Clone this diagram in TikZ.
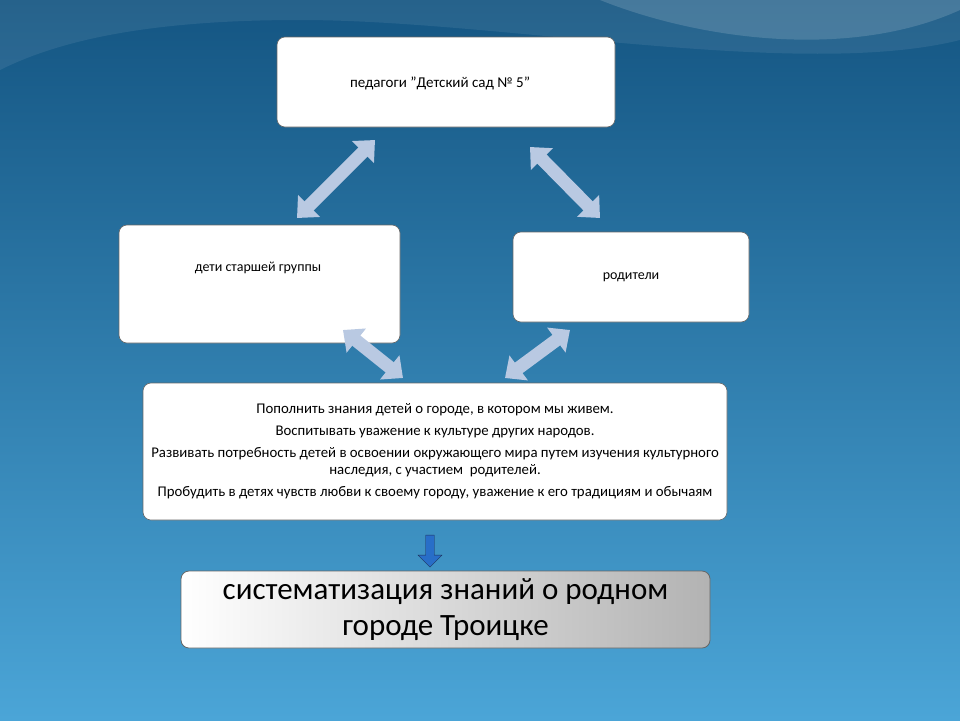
\documentclass[tikz,border=0pt]{standalone}
\usepackage{fontspec}
\setmainfont{Carlito}
\usetikzlibrary{arrows.meta,shapes.arrows}
\definecolor{arr}{HTML}{B9C9E2}
\tikzset{
  box/.style={draw=black!60,line width=0.6pt,fill=white,rounded corners=8pt,inner sep=0pt,align=center,font=\fontsize{14}{18}\selectfont},
  dbl/.style={draw=arr,line width=13pt,{Triangle[width=30pt,length=17pt]}-{Triangle[width=30pt,length=17pt]}},
}
\begin{document}
\begin{tikzpicture}[x=1pt,y=-1pt]
\useasboundingbox (0,0) rectangle (960,720);
\shade[top color={rgb,255:red,20;green,85;blue,130},bottom color={rgb,255:red,75;green,165;blue,215}] (0,0) rectangle (960,720);
\fill[white,opacity=0.08] (0,0) -- (960,0) -- (960,40) .. controls (800,80) and (500,20) .. (300,20) .. controls (150,20) and (60,40) .. (0,70) -- cycle;
\fill[white,opacity=0.15] (600,0) .. controls (700,40) and (850,60) .. (960,10) -- (960,0) -- cycle;
\node[box,minimum width=338pt,minimum height=90pt] (t) at (446,82) {};
\node[font=\fontsize{15}{18}\selectfont] (tt) at (440,83) {педагоги \symbol{34}Детский сад № 5\symbol{34}};
\node[box,minimum width=281pt,minimum height=118pt] (l) at (259.5,284) {};
\node[font=\fontsize{14}{18}\selectfont] (lt) at (258,268) {дети старшей группы};
\node[box,minimum width=236pt,minimum height=90pt] (r) at (631,277) {родители};
\node[box,minimum width=584pt,minimum height=137pt,font=\fontsize{14.8}{17}\selectfont] (b) at (435,451.5) {Пополнить знания детей о городе, в котором мы живем.\\[5pt]
Воспитывать уважение к культуре других народов.\\[5pt]
Развивать потребность детей в освоении окружающего мира путем изучения культурного\\наследия, с участием\ \ родителей.\\[5pt]
Пробудить в детях чувств любви к своему городу, уважение к его традициям и обычаям};
\node[draw=black!60,line width=0.8pt,rounded corners=8pt,left color=white,right color=black!30,minimum width=529pt,minimum height=77pt,align=center,font=\fontsize{31}{36}\selectfont] (f) at (445.5,609.5) {систематизация знаний о родном\\городе Троицке};
\coordinate (a1s) at (297,218); \coordinate (a1e) at (375,140);
\coordinate (a2s) at (530,147); \coordinate (a2e) at (600,218);
\coordinate (a3s) at (343,330); \coordinate (a3e) at (403,378);
\coordinate (a4s) at (505,378); \coordinate (a4e) at (570,330);
\draw[dbl] (a1s) -- (a1e);
\draw[dbl] (a2s) -- (a2e);
\draw[dbl] (a3s) -- (a3e);
\draw[dbl] (a4s) -- (a4e);
\node[single arrow,shape border rotate=270,draw={rgb,255:red,30;green,50;blue,90},fill={rgb,255:red,40;green,110;blue,200},minimum width=24pt,single arrow head extend=4pt,minimum height=32pt,inner sep=2pt] (d) at (430,549) {};
\end{tikzpicture}
\end{document}
